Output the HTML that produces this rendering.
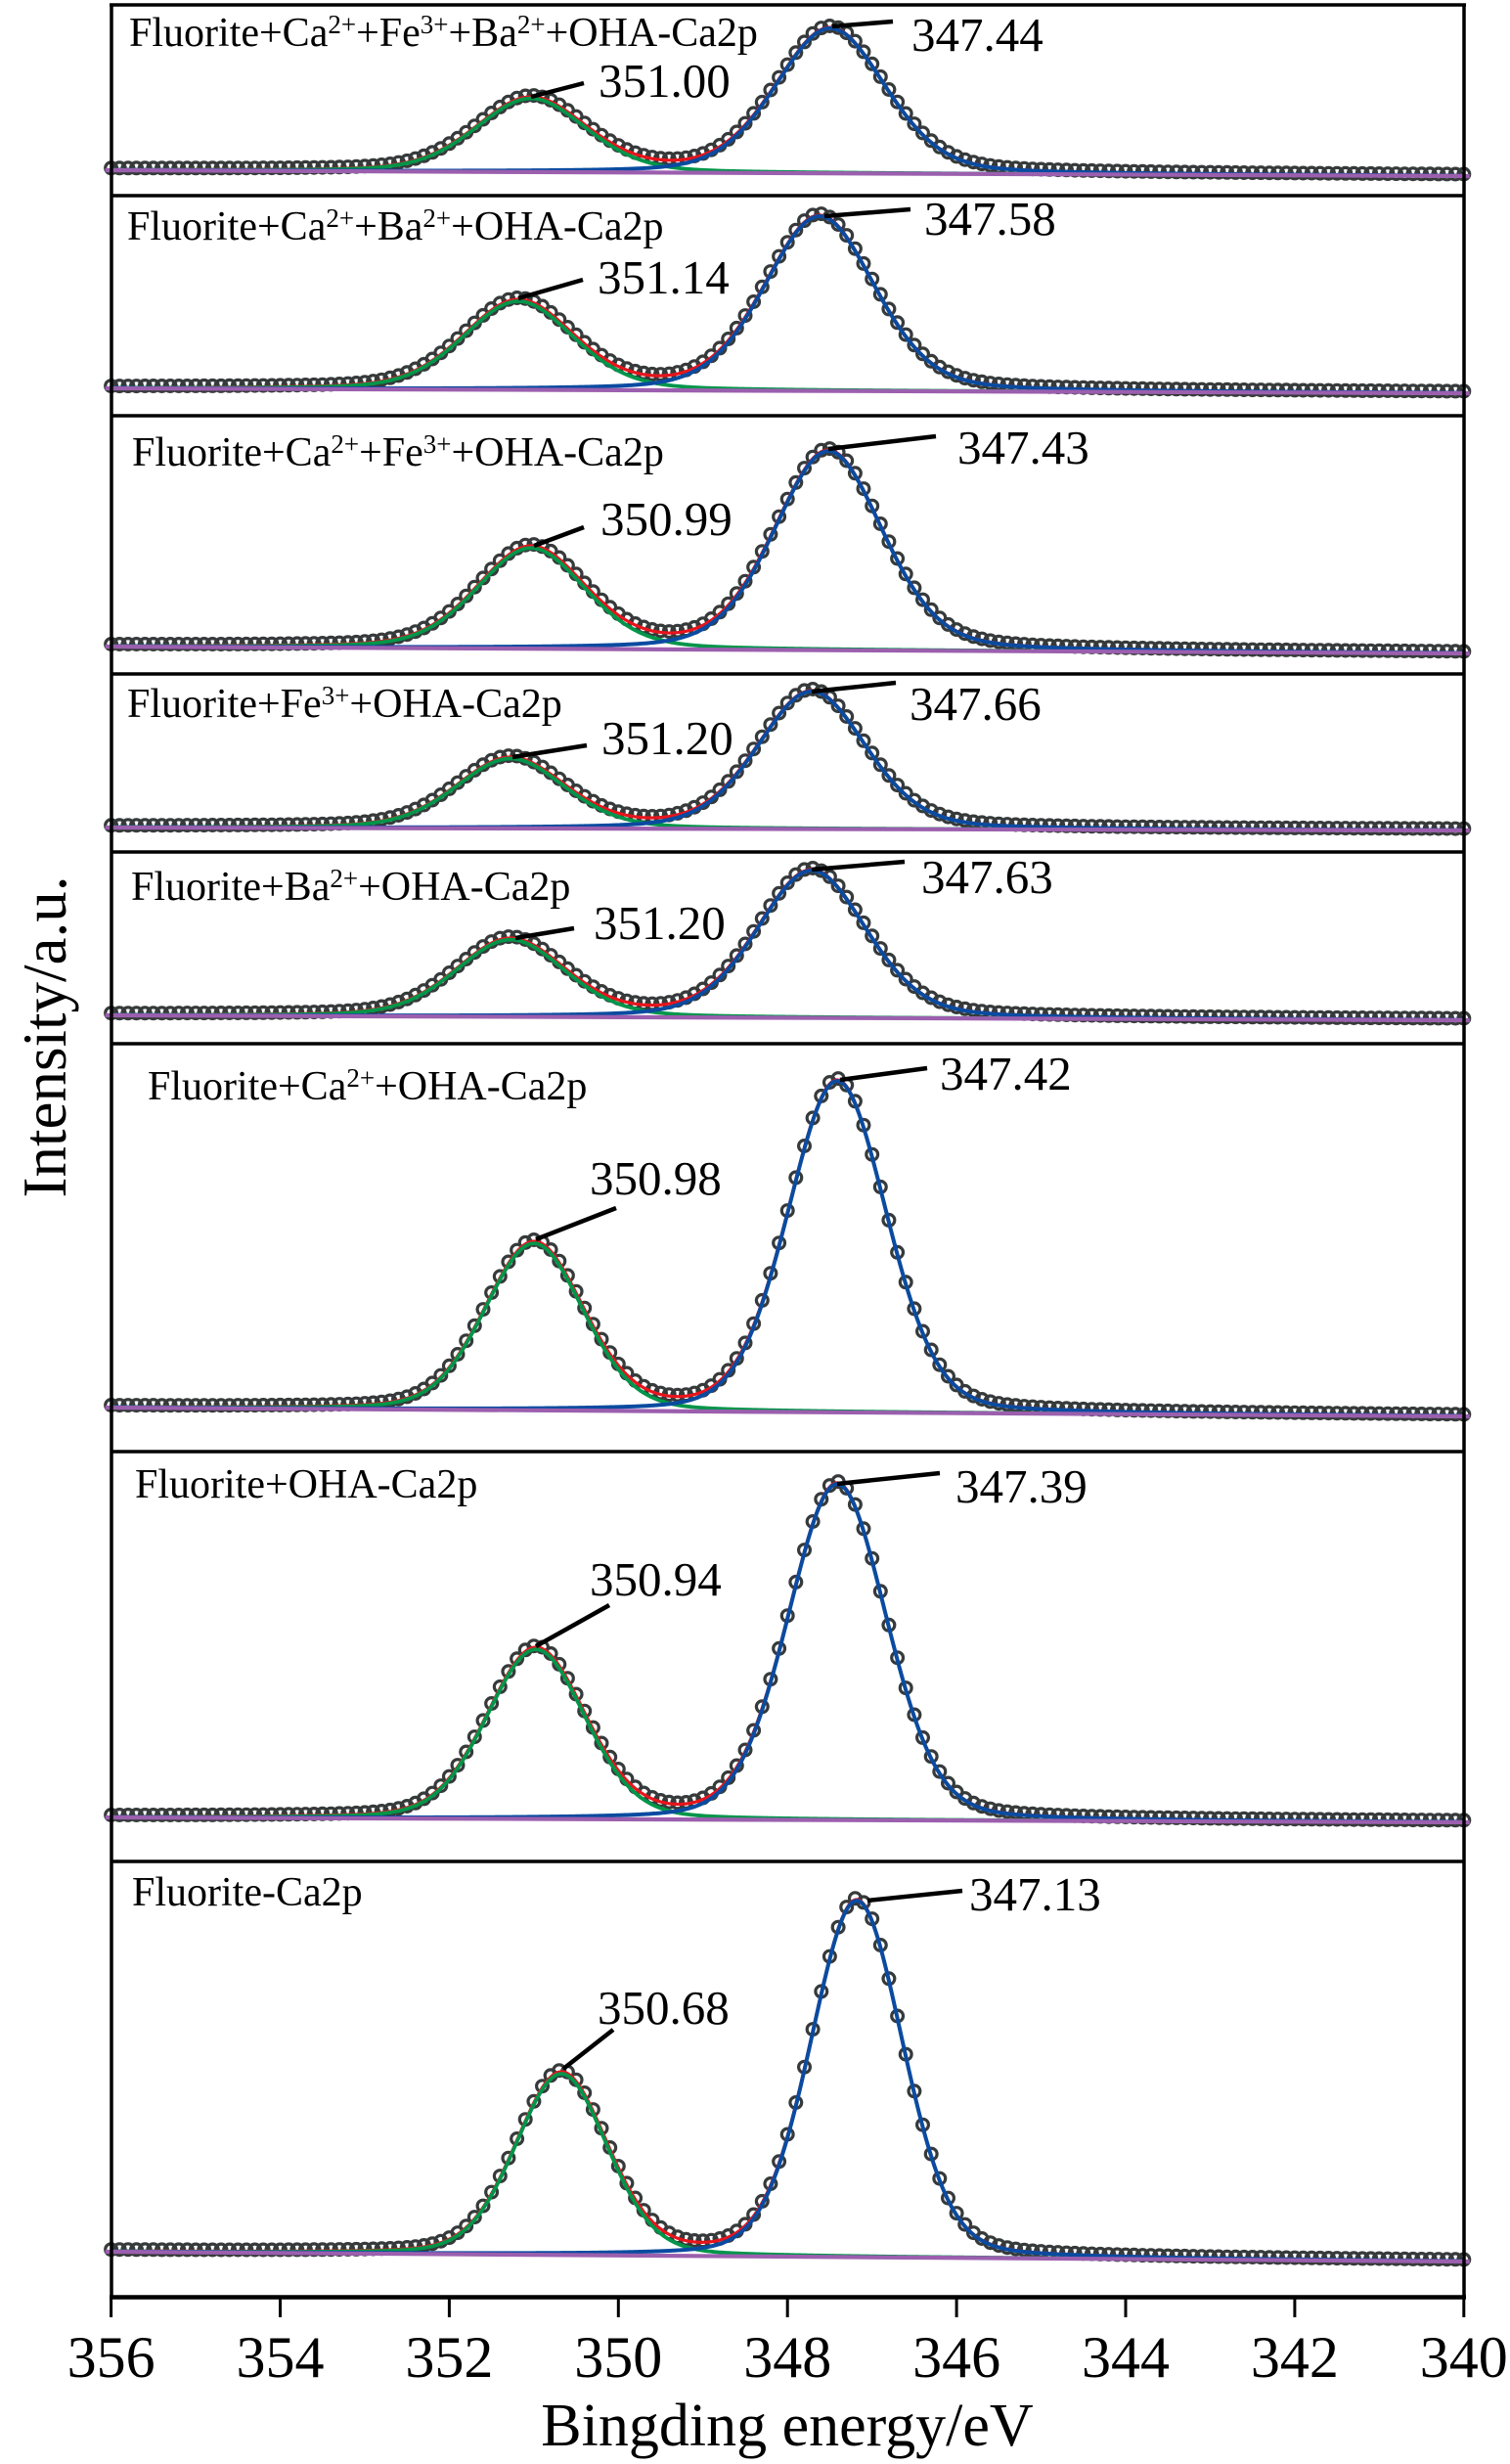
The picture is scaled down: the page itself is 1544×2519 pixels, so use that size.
<!DOCTYPE html>
<html>
<head>
<meta charset="utf-8">
<style>
  html,body{margin:0;padding:0;background:#fff;}
  svg{display:block;}
  text{font-family:"Liberation Serif","Times New Roman",serif;fill:#000;}
</style>
</head>
<body>
<svg id="chart" xmlns="http://www.w3.org/2000/svg" width="1544" height="2519" viewBox="0 0 1544 2519">
  <rect x="0" y="0" width="1544" height="2519" fill="#fff"/>
  <g id="curves"></g>

  <!-- frame and separators -->
  <g stroke="#000" stroke-width="3.5" fill="none">
    <line x1="112" y1="5" x2="1499" y2="5"/>
    <line x1="114" y1="200" x2="1497" y2="200"/>
    <line x1="114" y1="425" x2="1497" y2="425"/>
    <line x1="114" y1="689" x2="1497" y2="689"/>
    <line x1="114" y1="871" x2="1497" y2="871"/>
    <line x1="114" y1="1067" x2="1497" y2="1067"/>
    <line x1="114" y1="1484" x2="1497" y2="1484"/>
    <line x1="114" y1="1903" x2="1497" y2="1903"/>
    <line x1="114" y1="5" x2="114" y2="2350"/>
    <line x1="1497" y1="5" x2="1497" y2="2350"/>
  </g>
  <line x1="112" y1="2348.5" x2="1499" y2="2348.5" stroke="#000" stroke-width="4.5"/>

  <!-- ticks -->
  <g stroke="#000" stroke-width="3">
    <line x1="113.6" y1="2348" x2="113.6" y2="2369"/>
    <line x1="286.5" y1="2348" x2="286.5" y2="2369"/>
    <line x1="459.4" y1="2348" x2="459.4" y2="2369"/>
    <line x1="632.3" y1="2348" x2="632.3" y2="2369"/>
    <line x1="805.2" y1="2348" x2="805.2" y2="2369"/>
    <line x1="978.1" y1="2348" x2="978.1" y2="2369"/>
    <line x1="1151" y1="2348" x2="1151" y2="2369"/>
    <line x1="1323.9" y1="2348" x2="1323.9" y2="2369"/>
    <line x1="1496.8" y1="2348" x2="1496.8" y2="2369"/>
  </g>
  <g font-size="60" text-anchor="middle">
    <text x="113.6" y="2430">356</text>
    <text x="286.5" y="2430">354</text>
    <text x="459.4" y="2430">352</text>
    <text x="632.3" y="2430">350</text>
    <text x="805.2" y="2430">348</text>
    <text x="978.1" y="2430">346</text>
    <text x="1151" y="2430">344</text>
    <text x="1323.9" y="2430">342</text>
    <text x="1496.8" y="2430">340</text>
  </g>

  <!-- axis labels -->
  <text x="805" y="2500" font-size="62" text-anchor="middle">Bingding energy/eV</text>
  <text transform="translate(67,1060) rotate(-90)" font-size="63" text-anchor="middle">Intensity/a.u.</text>

  <!-- panel titles -->
  <g font-size="42">
    <text x="132" y="47">Fluorite+Ca<tspan font-size="27" dy="-13">2+</tspan><tspan dy="13">+Fe</tspan><tspan font-size="27" dy="-13">3+</tspan><tspan dy="13">+Ba</tspan><tspan font-size="27" dy="-13">2+</tspan><tspan dy="13">+OHA-Ca2p</tspan></text>
    <text x="130" y="245">Fluorite+Ca<tspan font-size="27" dy="-13">2+</tspan><tspan dy="13">+Ba</tspan><tspan font-size="27" dy="-13">2+</tspan><tspan dy="13">+OHA-Ca2p</tspan></text>
    <text x="135" y="476">Fluorite+Ca<tspan font-size="27" dy="-13">2+</tspan><tspan dy="13">+Fe</tspan><tspan font-size="27" dy="-13">3+</tspan><tspan dy="13">+OHA-Ca2p</tspan></text>
    <text x="130" y="733">Fluorite+Fe<tspan font-size="27" dy="-13">3+</tspan><tspan dy="13">+OHA-Ca2p</tspan></text>
    <text x="134" y="920">Fluorite+Ba<tspan font-size="27" dy="-13">2+</tspan><tspan dy="13">+OHA-Ca2p</tspan></text>
    <text x="151" y="1124">Fluorite+Ca<tspan font-size="27" dy="-13">2+</tspan><tspan dy="13">+OHA-Ca2p</tspan></text>
    <text x="138" y="1531">Fluorite+OHA-Ca2p</text>
    <text x="135" y="1948">Fluorite-Ca2p</text>
  </g>

  <!-- leader lines -->
  <g stroke="#000" stroke-width="4.5" stroke-linecap="butt">
    <line x1="543" y1="99" x2="597" y2="85"/>
    <line x1="851" y1="27" x2="913" y2="22"/>
    <line x1="530" y1="305" x2="596" y2="286"/>
    <line x1="843" y1="221" x2="931" y2="214"/>
    <line x1="546" y1="558" x2="597" y2="539"/>
    <line x1="847" y1="459" x2="957" y2="446"/>
    <line x1="524" y1="774" x2="600" y2="762"/>
    <line x1="830" y1="707" x2="916" y2="698"/>
    <line x1="527" y1="959" x2="587" y2="949"/>
    <line x1="830" y1="889" x2="925" y2="881"/>
    <line x1="548" y1="1267" x2="630" y2="1235"/>
    <line x1="859" y1="1104" x2="948" y2="1092"/>
    <line x1="548" y1="1683" x2="623" y2="1641"/>
    <line x1="856" y1="1517" x2="961" y2="1506"/>
    <line x1="576" y1="2115" x2="627" y2="2075"/>
    <line x1="887" y1="1943" x2="984" y2="1933"/>
  </g>

  <!-- peak labels -->
  <g font-size="49">
    <text x="612" y="99">351.00</text>
    <text x="932" y="52">347.44</text>
    <text x="611" y="300">351.14</text>
    <text x="945" y="240">347.58</text>
    <text x="614" y="547">350.99</text>
    <text x="979" y="474">347.43</text>
    <text x="615" y="771">351.20</text>
    <text x="930" y="736">347.66</text>
    <text x="607" y="960">351.20</text>
    <text x="942" y="913">347.63</text>
    <text x="603" y="1221">350.98</text>
    <text x="961" y="1114">347.42</text>
    <text x="603" y="1631">350.94</text>
    <text x="977" y="1536">347.39</text>
    <text x="611" y="2069">350.68</text>
    <text x="991" y="1953">347.13</text>
  </g>
</svg>

<script>
(function(){
  var X0 = 113.6, X1 = 1496.8, PPE = (X1 - X0) / 16;
  var panels = [
    {yL:174, yR:180, c1:543, t1:99,  c2:849, t2:28,  w:133, eta:0.25},
    {yL:397, yR:402, c1:530, t1:306, c2:838, t2:220, w:133, eta:0.25},
    {yL:661, yR:668, c1:543, t1:558, c2:847, t2:460, w:131, eta:0.25},
    {yL:846, yR:849, c1:522, t1:774, c2:830, t2:706, w:131, eta:0.25},
    {yL:1038,yR:1043,c1:522, t1:959, c2:830, t2:889, w:132, eta:0.25},
    {yL:1439,yR:1448,c1:546, t1:1269,c2:856, t2:1104,w:119, eta:0.18},
    {yL:1858,yR:1863,c1:548, t1:1684,c2:856, t2:1516,w:119, eta:0.18},
    {yL:2302,yR:2312,c1:574, t1:2118,c2:876, t2:1942,w:111, eta:0.18}
  ];
  function pv(dx, w, eta){
    var t = 4 * (dx / w) * (dx / w);
    return (1 - eta) * Math.exp(-Math.LN2 * t) + eta / (1 + t);
  }
  var circ = [], red = [], green = [], blue = [], purple = [];
  panels.forEach(function(p){
    var base = function(x){ return p.yL + (p.yR - p.yL) * (x - X0) / (X1 - X0); };
    var H1 = base(p.c1) - p.t1, H2 = base(p.c2) - p.t2;
    var g = pv(p.c2 - p.c1, p.w, p.eta);
    var A1 = (H1 - g * H2) / (1 - g * g);
    var A2 = (H2 - g * H1) / (1 - g * g);
    var f1 = function(x){ return A1 * pv(x - p.c1, p.w, p.eta); };
    var f2 = function(x){ return A2 * pv(x - p.c2, p.w, p.eta); };
    var dr = "", dg = "", db = "", dp = "";
    var first = true;
    for (var x = X0; x <= X1 + 0.01; x += 1.5) {
      var b = base(x), a1 = f1(x), a2 = f2(x);
      var cmd = first ? "M" : "L";
      dr += cmd + x.toFixed(1) + " " + (b - a1 - a2).toFixed(2);
      dg += cmd + x.toFixed(1) + " " + (b - a1).toFixed(2);
      db += cmd + x.toFixed(1) + " " + (b - a2).toFixed(2);
      first = false;
    }
    dp = "M" + (X0 - 6) + " " + p.yL + "L" + (X1 + 6) + " " + p.yR;
    red.push(dr); green.push(dg); blue.push(db); purple.push(dp);
    for (var i = 0; i <= 160; i++) {
      var xx = X0 + i * 0.1 * PPE;
      var yy = base(xx) - f1(xx) - f2(xx) - 1.5;
      circ.push('<circle cx="' + xx.toFixed(1) + '" cy="' + yy.toFixed(1) + '" r="5.9"/>');
    }
  });
  var html = '';
  html += '<g fill="none" stroke="#363a3a" stroke-width="3.2">' + circ.join('') + '</g>';
  html += '<path fill="none" stroke="#e8141c" stroke-width="3.2" stroke-linejoin="round" d="' + red.join('') + '"/>';
  html += '<path fill="none" stroke="#00954a" stroke-width="3.8" stroke-linejoin="round" d="' + green.join('') + '"/>';
  html += '<path fill="none" stroke="#0a4ba0" stroke-width="4" stroke-linejoin="round" d="' + blue.join('') + '"/>';
  html += '<path fill="none" stroke="#9b5fae" stroke-width="4.2" d="' + purple.join('') + '"/>';
  document.getElementById('curves').innerHTML = html;
})();
</script>
</body>
</html>
